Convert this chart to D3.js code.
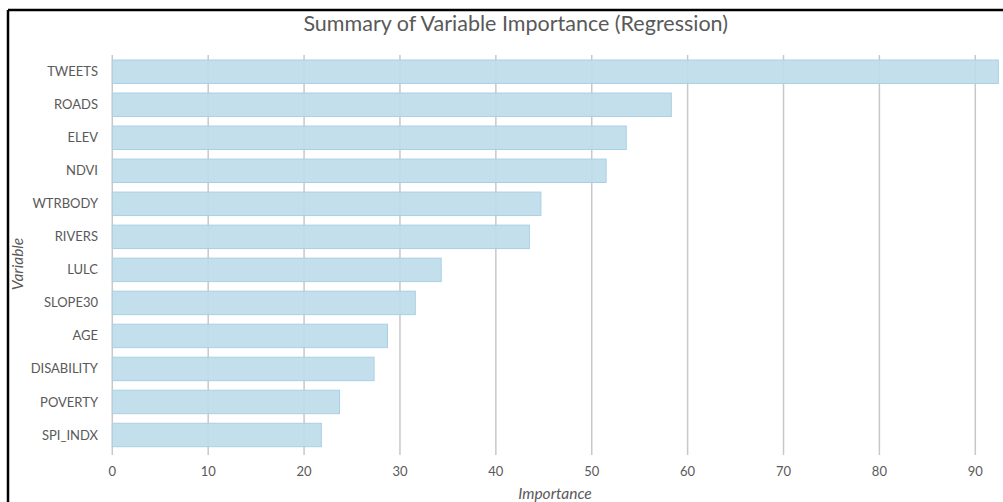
<!DOCTYPE html>
<html><head><meta charset="utf-8">
<script src="https://cdn.jsdelivr.net/npm/d3@7"></script>
<style>
body{margin:0;background:#fff;}
svg{display:block;}
text{font-family:Lato,"Open Sans",sans-serif;fill:#595959;}
</style></head>
<body>
<svg id="chart" width="1003" height="502"></svg>
<script>
const categories = ["TWEETS","ROADS","ELEV","NDVI","WTRBODY","RIVERS","LULC","SLOPE30","AGE","DISABILITY","POVERTY","SPI_INDX"];
const importance = [92.4,58.3,53.6,51.5,44.7,43.5,34.3,31.6,28.7,27.3,23.7,21.8];
const xTicks = [0,10,20,30,40,50,60,70,80,90];
const title = "Summary of Variable Importance (Regression)";
const xTitle = "Importance";
const yTitle = "Variable";

const svg = d3.select("#chart");
const x = d3.scaleLinear().domain([0, 92.4]).range([112.3, 998.3]);
const y = d3.scaleBand().domain(categories).range([55.2, 451.5]).paddingInner(0.29).paddingOuter(0.145);

// frame
svg.append("line").attr("x1",8).attr("x2",1003).attr("y1",10).attr("y2",10).attr("stroke","#000").attr("stroke-width",2.5);
svg.append("line").attr("x1",8).attr("x2",8).attr("y1",10).attr("y2",502).attr("stroke","#000").attr("stroke-width",2.5);

// gridlines
svg.append("g").selectAll("line").data(xTicks).join("line")
  .attr("x1",d=>x(d)).attr("x2",d=>x(d)).attr("y1",55).attr("y2",455)
  .attr("stroke","#c8c8c8").attr("stroke-width",1.5);

// bars
svg.append("g").selectAll("rect").data(categories).join("rect")
  .attr("x",x(0)).attr("y",d=>y(d))
  .attr("width",(d,i)=>x(importance[i])-x(0)).attr("height",y.bandwidth())
  .attr("fill","#bfdcea").attr("fill-opacity",0.92).attr("stroke","#a8d0e4").attr("stroke-width",1);

// y labels
svg.append("g").selectAll("text").data(categories).join("text")
  .attr("x",98).attr("y",d=>y(d)+y.bandwidth()/2).attr("dy","0.35em")
  .attr("text-anchor","end").attr("font-size",13).text(d=>d);

// x tick labels
svg.append("g").selectAll("text").data(xTicks).join("text")
  .attr("x",d=>x(d)).attr("y",476).attr("text-anchor","middle").attr("font-size",13).text(d=>d);

// titles
svg.append("text").attr("x",515.7).attr("y",31).attr("text-anchor","middle").attr("font-size",21.5).text(title);
svg.append("text").attr("x",555).attr("y",499).attr("text-anchor","middle").attr("font-size",15.5).attr("font-style","italic").text(xTitle);
svg.append("text").attr("transform","translate(23,264) rotate(-90)").attr("text-anchor","middle").attr("font-size",15.5).attr("font-style","italic").text(yTitle);
</script>
</body></html>
